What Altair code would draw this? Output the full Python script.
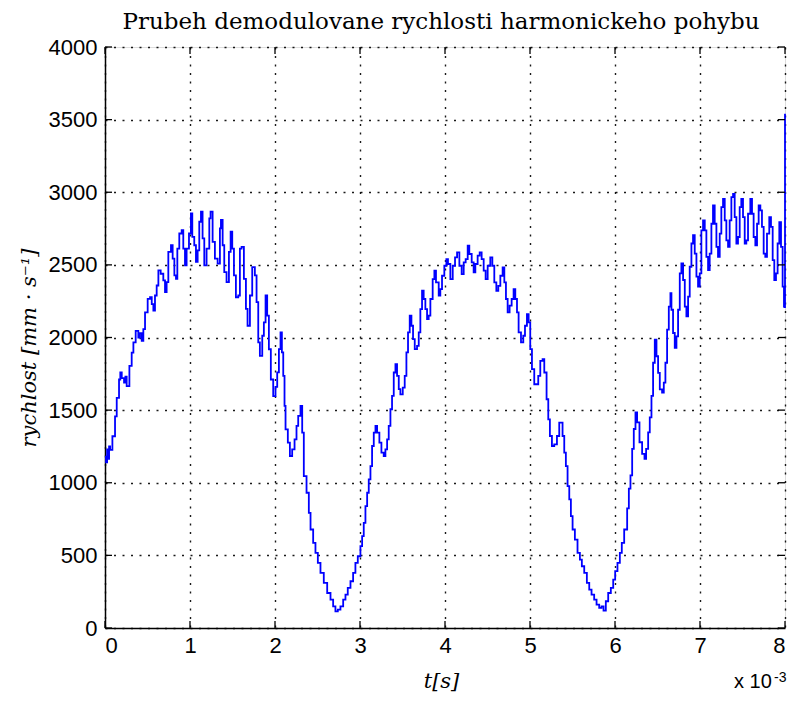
import altair as alt
import pandas as pd

# time in ms (axis shown as x 10^-3 s), velocity in mm/s
t_ms = [
    0.000, 0.012, 0.025, 0.035, 0.048, 0.060, 0.087, 0.118, 0.138, 0.165,
    0.180, 0.197, 0.224, 0.240, 0.255, 0.287, 0.314, 0.334, 0.361, 0.392,
    0.410, 0.432, 0.451, 0.471, 0.502, 0.530, 0.550, 0.569, 0.588, 0.608,
    0.628, 0.655, 0.686, 0.706, 0.725, 0.745, 0.776, 0.796, 0.816, 0.835,
    0.851, 0.874, 0.902, 0.921, 0.941, 0.960, 0.988, 1.011, 1.027, 1.050,
    1.070, 1.090, 1.109, 1.129, 1.148, 1.168, 1.195, 1.227, 1.242, 1.266,
    1.293, 1.325, 1.352, 1.364, 1.384, 1.403, 1.430, 1.458, 1.478, 1.497,
    1.517, 1.540, 1.568, 1.587, 1.607, 1.634, 1.658, 1.677, 1.705, 1.732,
    1.763, 1.783, 1.803, 1.822, 1.850, 1.869, 1.889, 1.908, 1.928, 1.951,
    1.979, 2.006, 2.026, 2.046, 2.065, 2.081, 2.097, 2.112, 2.124, 2.151,
    2.175, 2.202, 2.230, 2.253, 2.273, 2.300, 2.320, 2.339, 2.371, 2.398,
    2.418, 2.449, 2.476, 2.504, 2.535, 2.574, 2.614, 2.653, 2.684, 2.711,
    2.739, 2.770, 2.802, 2.829, 2.856, 2.888, 2.919, 2.946, 2.974, 3.005,
    3.025, 3.044, 3.064, 3.084, 3.103, 3.123, 3.142, 3.162, 3.182, 3.201,
    3.228, 3.252, 3.279, 3.299, 3.319, 3.338, 3.358, 3.377, 3.397, 3.417,
    3.436, 3.456, 3.475, 3.503, 3.526, 3.546, 3.565, 3.585, 3.605, 3.624,
    3.644, 3.671, 3.691, 3.710, 3.730, 3.749, 3.769, 3.789, 3.808, 3.828,
    3.855, 3.875, 3.894, 3.926, 3.945, 3.965, 3.992, 4.016, 4.035, 4.063,
    4.091, 4.118, 4.142, 4.169, 4.196, 4.220, 4.243, 4.267, 4.286, 4.314,
    4.337, 4.357, 4.384, 4.408, 4.431, 4.455, 4.478, 4.502, 4.533, 4.557,
    4.580, 4.604, 4.627, 4.651, 4.678, 4.698, 4.717, 4.737, 4.760, 4.784,
    4.807, 4.827, 4.847, 4.866, 4.894, 4.921, 4.941, 4.964, 4.984, 5.003,
    5.023, 5.050, 5.078, 5.097, 5.121, 5.148, 5.168, 5.195, 5.215, 5.234,
    5.258, 5.285, 5.317, 5.344, 5.364, 5.383, 5.403, 5.422, 5.442, 5.462,
    5.481, 5.501, 5.528, 5.559, 5.587, 5.610, 5.638, 5.669, 5.697, 5.724,
    5.755, 5.783, 5.814, 5.841, 5.865, 5.892, 5.920, 5.951, 5.979, 6.002,
    6.029, 6.057, 6.080, 6.108, 6.143, 6.163, 6.182, 6.202, 6.221, 6.241,
    6.260, 6.288, 6.319, 6.347, 6.366, 6.390, 6.409, 6.429, 6.448, 6.468,
    6.488, 6.507, 6.527, 6.554, 6.574, 6.593, 6.613, 6.633, 6.652, 6.664,
    6.683, 6.703, 6.723, 6.742, 6.762, 6.781, 6.801, 6.821, 6.840, 6.860,
    6.879, 6.899, 6.918, 6.938, 6.958, 6.977, 6.997, 7.016, 7.036, 7.056,
    7.075, 7.095, 7.114, 7.134, 7.153, 7.173, 7.193, 7.212, 7.232, 7.251,
    7.271, 7.291, 7.310, 7.330, 7.349, 7.369, 7.389, 7.408, 7.428, 7.447,
    7.467, 7.486, 7.506, 7.526, 7.545, 7.565, 7.592, 7.612, 7.631, 7.651,
    7.671, 7.690, 7.710, 7.729, 7.749, 7.768, 7.788, 7.815, 7.835, 7.855,
    7.874, 7.894, 7.913, 7.933, 7.953, 7.972, 7.988, 7.996, 8.000,
]
v_mm_s = [
    1180, 1140, 1230, 1165, 1250, 1226, 1320, 1457, 1585, 1711,
    1760, 1720, 1690, 1730, 1665, 1804, 1896, 1966, 2046, 2000,
    2030, 1977, 2058, 2173, 2266, 2277, 2230, 2185, 2289, 2358,
    2462, 2439, 2393, 2312, 2381, 2589, 2635, 2543, 2428, 2404,
    2612, 2716, 2739, 2612, 2497, 2612, 2716, 2855, 2693, 2635,
    2520, 2600, 2797, 2866, 2682, 2497, 2612, 2820, 2866, 2659,
    2543, 2508, 2751, 2809, 2635, 2450, 2381, 2589, 2728, 2612,
    2428, 2277, 2289, 2612, 2624, 2404, 2197, 2081, 2289, 2485,
    2428, 2243, 1966, 1873, 2012, 2104, 2289, 2150, 1919, 1711,
    1596, 1660, 1760, 1920, 2035, 1897, 1736, 1529, 1368, 1276,
    1184, 1230, 1299, 1391, 1460, 1529, 1345, 1046, 931, 793,
    678, 586, 517, 448, 379, 310, 241, 195, 149, 115,
    126, 149, 195, 230, 276, 322, 379, 448, 494, 563,
    632, 724, 839, 931, 1023, 1115, 1253, 1345, 1391, 1345,
    1276, 1207, 1184, 1230, 1299, 1391, 1506, 1598, 1759, 1816,
    1736, 1644, 1609, 1655, 1736, 1897, 2035, 2150, 2081, 1989,
    1920, 1943, 2035, 2196, 2322, 2265, 2196, 2127, 2150, 2265,
    2402, 2460, 2379, 2288, 2333, 2425, 2494, 2540, 2506, 2402,
    2494, 2552, 2586, 2494, 2437, 2517, 2540, 2632, 2575, 2517,
    2448, 2506, 2563, 2586, 2540, 2460, 2402, 2494, 2552, 2494,
    2379, 2322, 2356, 2425, 2483, 2379, 2265, 2173, 2219, 2265,
    2333, 2265, 2173, 2035, 1966, 2012, 2081, 2161, 2104, 1920,
    1782, 1678, 1678, 1736, 1839, 1851, 1759, 1575, 1437, 1322,
    1253, 1264, 1322, 1414, 1414, 1322, 1207, 1115, 977, 885,
    770, 678, 609, 517, 471, 425, 379, 310, 264, 230,
    195, 161, 138, 149, 120, 184, 241, 276, 333, 391,
    448, 517, 586, 678, 823, 959, 1051, 1233, 1370, 1484,
    1415, 1279, 1199, 1165, 1233, 1347, 1450, 1598, 1826, 1985,
    1871, 1757, 1643, 1621, 1689, 1826, 2054, 2213, 2305, 2191,
    2031, 1928, 2008, 2191, 2441, 2510, 2396, 2213, 2145, 2282,
    2487, 2647, 2704, 2578, 2419, 2350, 2441, 2738, 2806, 2738,
    2555, 2464, 2578, 2783, 2909, 2783, 2624, 2555, 2715, 2897,
    2954, 2806, 2669, 2624, 2806, 2966, 2989, 2829, 2647, 2692,
    2897, 2954, 2829, 2647, 2669, 2852, 2954, 2852, 2692, 2635,
    2783, 2909, 2875, 2761, 2578, 2555, 2715, 2829, 2761, 2533,
    2396, 2441, 2647, 2795, 2624, 2350, 2213, 2210, 3540,
]

x_ticks = [0, 1, 2, 3, 4, 5, 6, 7, 8]
y_ticks = [0, 500, 1000, 1500, 2000, 2500, 3000, 3500, 4000]

title_text = "Prubeh demodulovane rychlosti harmonickeho pohybu"
x_title = "t[s]"
y_title = "rychlost [mm · s⁻¹]"
exp_base = "x 10"
exp_power = "-3"

W, H = 680, 581
TICK = 7
LABEL_FONT = "Liberation Sans"
SERIF = "DejaVu Serif"

df = pd.DataFrame({"t": t_ms, "v": v_mm_s})
xs = alt.Scale(domain=[0, 8], nice=False, zero=False)
ys = alt.Scale(domain=[0, 4000], nice=False)

common_axis = dict(
    grid=True, gridColor="black", gridDash=[2, 6.5], gridWidth=1.4, gridOpacity=0.9,
    ticks=False, domainColor="black", domainWidth=1.5,
    labelFont=LABEL_FONT, labelFontSize=22, labelColor="black",
    titleFont=SERIF, titleFontStyle="italic", titleFontWeight="normal",
    titleColor="black", titleFontSize=21,
)

line = alt.Chart(df).mark_line(color="#0000FF", strokeWidth=1.8,
                               interpolate="step-after").encode(
    x=alt.X("t:Q", scale=xs, axis=alt.Axis(
        values=x_ticks, format="d", labelPadding=7, title=x_title,
        titleX=W / 2 - 4, titleY=53, titleBaseline="middle", titleAlign="center",
        **common_axis)),
    y=alt.Y("v:Q", scale=ys, axis=alt.Axis(
        values=y_ticks, format="d", labelPadding=8, title=y_title,
        titleX=-76, titleY=H / 2 + 10, titleAngle=270, titleBaseline="middle",
        titleAlign="center", **common_axis)),
)

xt = pd.DataFrame({"t": x_ticks})
yt = pd.DataFrame({"v": y_ticks})

xb = alt.Chart(xt).mark_rule(color="black", strokeWidth=1.3).encode(
    x=alt.X("t:Q", scale=xs), y=alt.value(H), y2=alt.value(H - TICK))
xtp = alt.Chart(xt).mark_rule(color="black", strokeWidth=1.3).encode(
    x=alt.X("t:Q", scale=xs), y=alt.value(0), y2=alt.value(TICK))
yl = alt.Chart(yt).mark_rule(color="black", strokeWidth=1.3).encode(
    y=alt.Y("v:Q", scale=ys), x=alt.value(0), x2=alt.value(TICK))
yr = alt.Chart(yt).mark_rule(color="black", strokeWidth=1.3).encode(
    y=alt.Y("v:Q", scale=ys), x=alt.value(W - TICK), x2=alt.value(W))

one = pd.DataFrame({"a": [0]})
ttl = alt.Chart(one).mark_text(
    text=title_text, font=SERIF, fontSize=23, align="center", baseline="alphabetic",
    color="black").encode(x=alt.value(W / 2 - 4), y=alt.value(-18))
exp1 = alt.Chart(one).mark_text(
    text=exp_base, font=LABEL_FONT, fontSize=20, align="left", baseline="bottom",
    color="black").encode(x=alt.value(629), y=alt.value(645))
exp2 = alt.Chart(one).mark_text(
    text=exp_power, font=LABEL_FONT, fontSize=14, align="left", baseline="middle",
    color="black").encode(x=alt.value(669), y=alt.value(631))

chart = alt.layer(line, xb, xtp, yl, yr, ttl, exp1, exp2).properties(
    width=W, height=H,
    autosize=alt.AutoSizeParams(type="none"),
    padding={"left": 97, "top": 39, "right": 3, "bottom": 66},
).configure_view(stroke="black", strokeWidth=1.5).configure(background="white")

chart.save("out.html", embed_options={"renderer": "svg", "actions": False})
